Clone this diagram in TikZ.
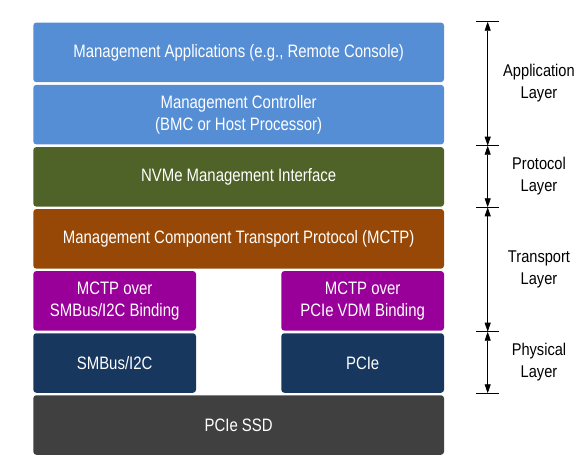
\documentclass[tikz,border=0pt]{standalone}
\usepackage{fontspec}
\setmainfont{Liberation Sans}
\newfontfamily\boxfont[FakeStretch=0.83]{Liberation Sans}
\newfontfamily\labfont[FakeStretch=0.86]{Liberation Sans}
\usetikzlibrary{arrows.meta}
\definecolor{cblue}{RGB}{85,142,213}
\definecolor{cgreen}{RGB}{79,98,40}
\definecolor{cbrown}{RGB}{152,72,6}
\definecolor{cpurple}{RGB}{153,0,153}
\definecolor{cnavy}{RGB}{23,55,94}
\definecolor{cgray}{RGB}{64,64,64}
\tikzset{
  layerbox/.style={rectangle, rounded corners=3pt, inner sep=0pt, text=white,
    align=center, minimum height=59.5pt,
    font=\boxfont\fontsize{18}{21.5}\selectfont},
  wide/.style={layerbox, minimum width=410.7pt},
  half/.style={layerbox, minimum width=162.7pt},
  lab/.style={align=center, text=black, font=\labfont\fontsize{17}{22}\selectfont},
  tick/.style={line width=0.8pt},
  span/.style={line width=0.8pt, {Triangle[length=9pt,width=6pt]}-{Triangle[length=9pt,width=6pt]}}
}
\begin{document}
\begin{tikzpicture}[x=1pt,y=-1pt]
\useasboundingbox (0,0) rectangle (584,471);
\node[wide, fill=cblue] (app) at (238.65,52.35) {Management Applications (e.g., Remote Console)};
\node[wide, fill=cblue] (mc) at (238.65,114.65) {Management Controller\\(BMC or Host Processor)};
\node[wide, fill=cgreen] (nvme) at (238.65,176.85) {NVMe Management Interface};
\node[wide, fill=cbrown] (mctp) at (238.65,238.85) {Management Component Transport Protocol (MCTP)};
\node[half, fill=cpurple] (smbind) at (114.65,300.85) {MCTP over\\SMBus/I2C Binding};
\node[half, fill=cpurple] (pcibind) at (362.65,300.85) {MCTP over\\PCIe VDM Binding};
\node[half, fill=cnavy] (smbus) at (114.65,363) {SMBus/I2C};
\node[half, fill=cnavy] (pcie) at (362.65,363) {PCIe};
\node[wide, fill=cgray] (ssd) at (238.65,425) {PCIe SSD};

\foreach \n/\y in {1/21.7,2/145.7,3/207.3,4/331.7,5/393.3}{
  \coordinate (t\n) at (487.7,\y);
  \coordinate (t\n l) at (476,\y);
  \coordinate (t\n r) at (498.5,\y);
  \draw[tick] (t\n l) -- (t\n r);
}
\draw[span] (t1) -- (t2);
\draw[span] (t2) -- (t3);
\draw[span] (t3) -- (t4);
\draw[span] (t4) -- (t5);

\node[lab] (lapp) at (539,83) {Application\\Layer};
\node[lab] (lprot) at (539,176.5) {Protocol\\Layer};
\node[lab] (ltrans) at (539,269.5) {Transport\\Layer};
\node[lab] (lphys) at (539,362.5) {Physical\\Layer};
\end{tikzpicture}
\end{document}
